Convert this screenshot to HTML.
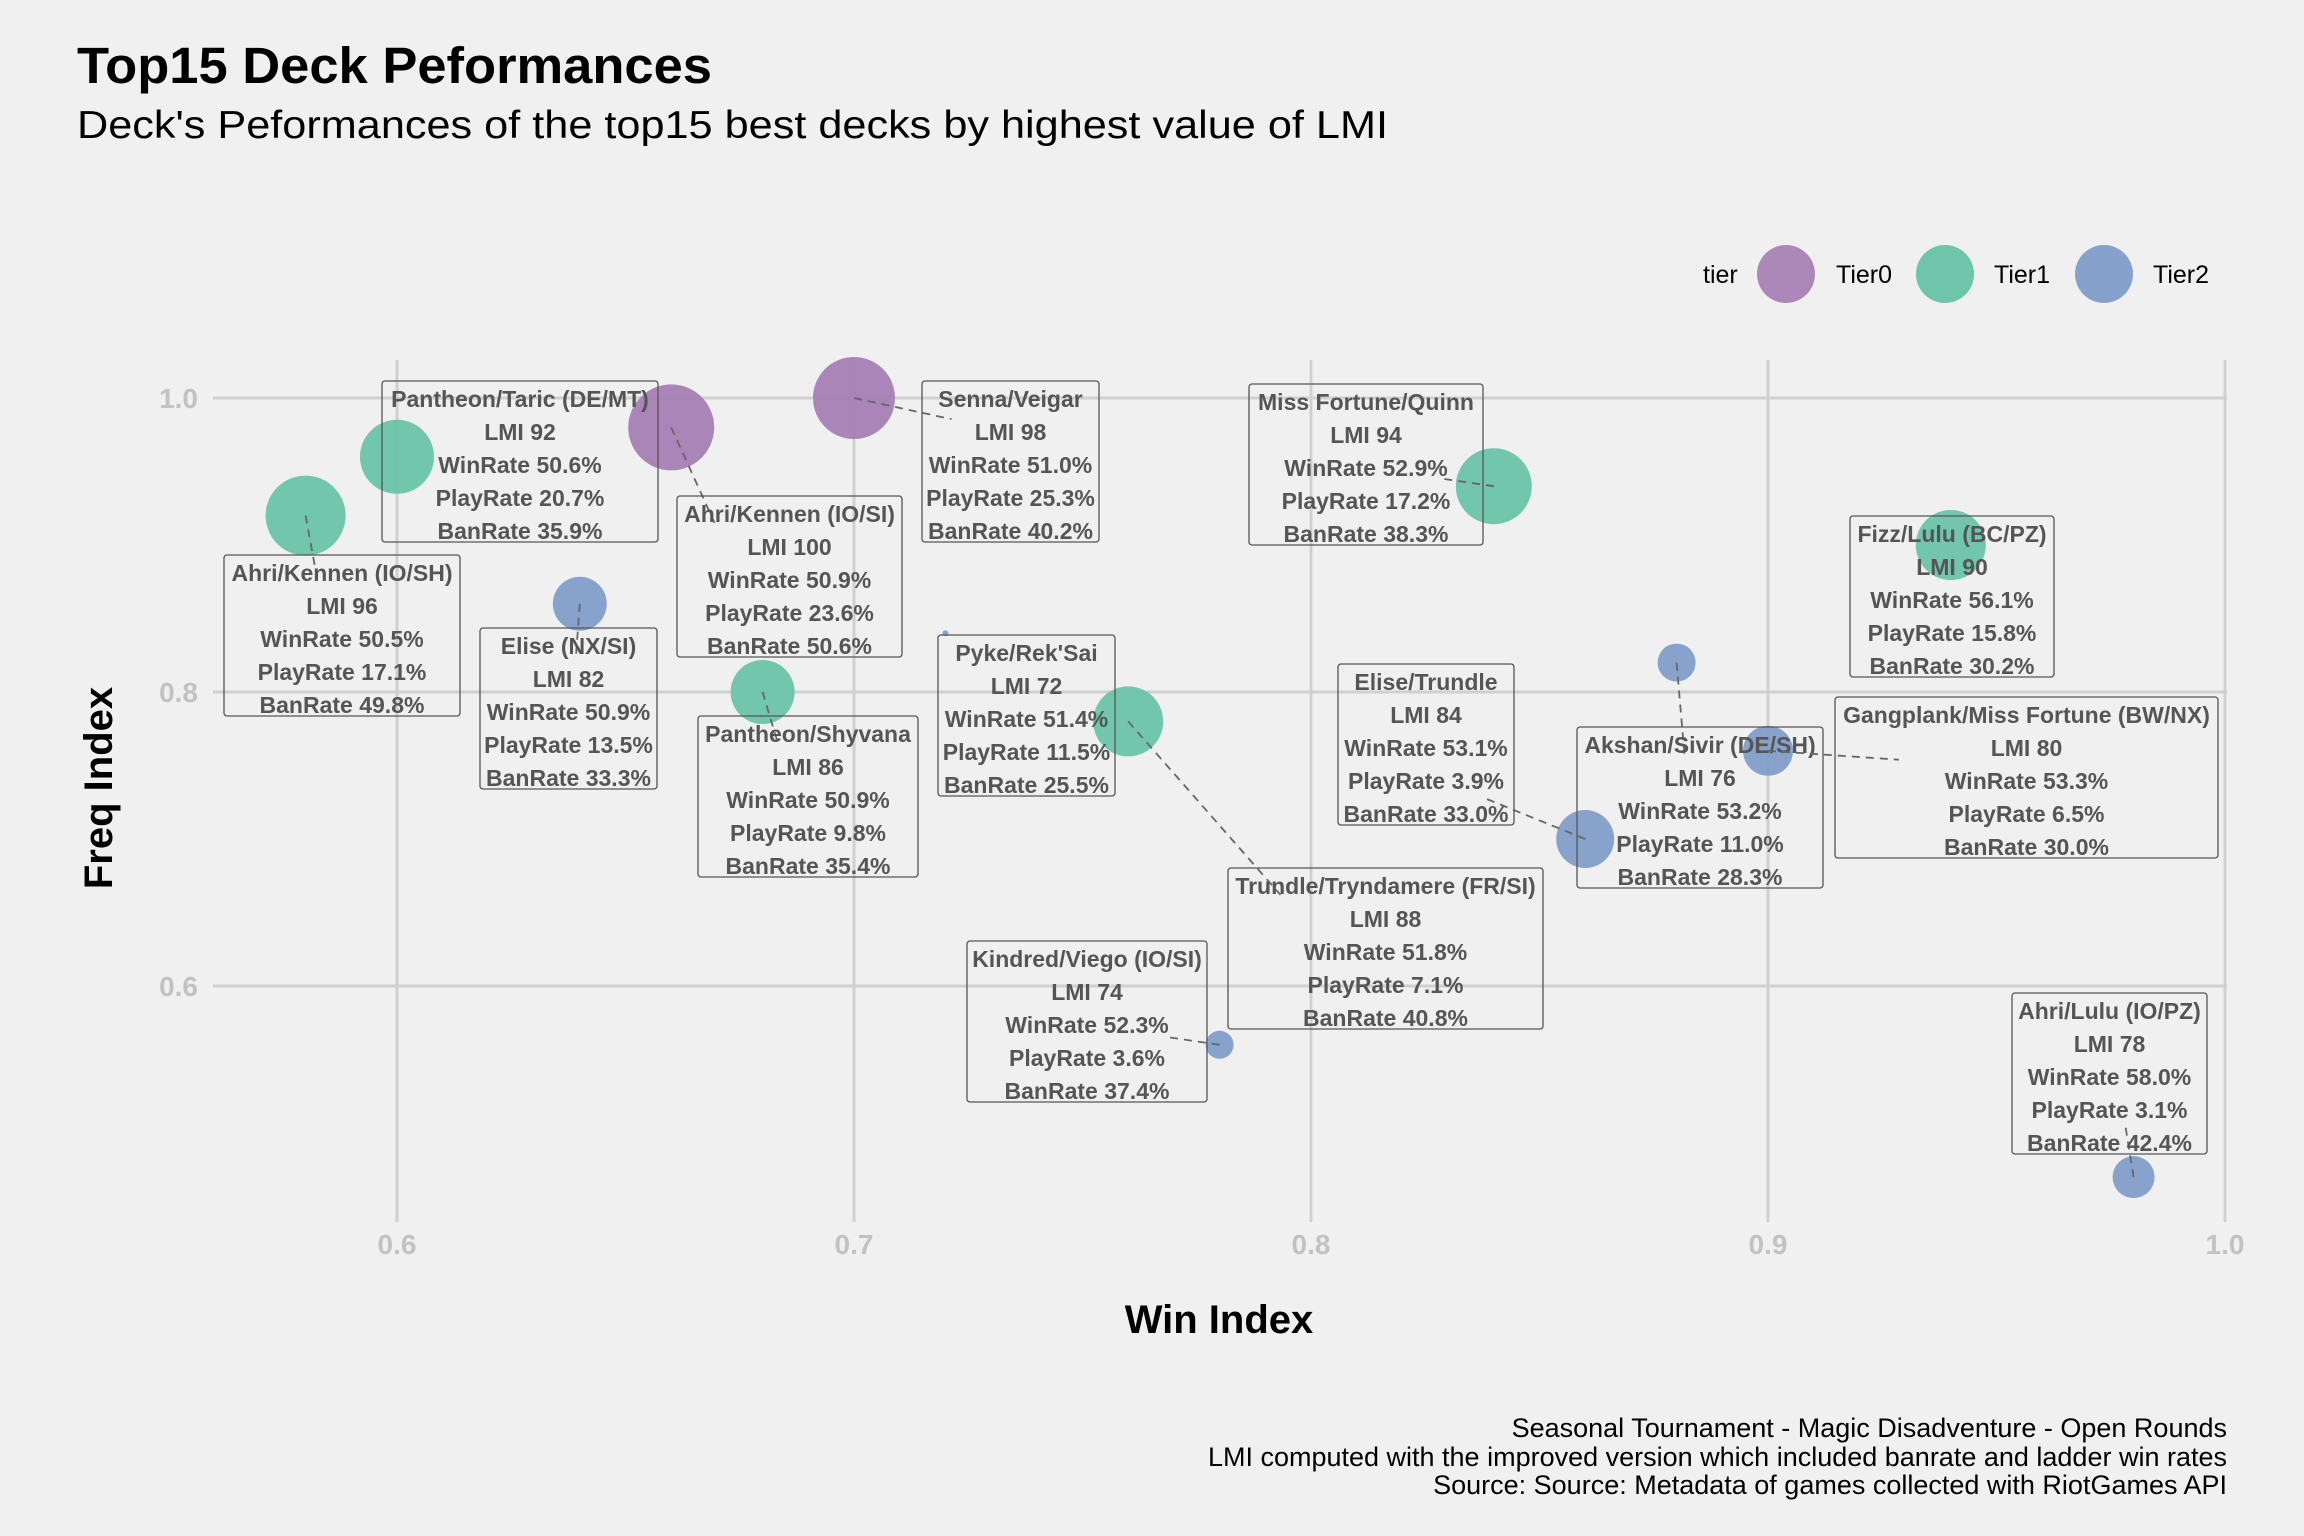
<!DOCTYPE html>
<html><head><meta charset="utf-8"><style>
html,body{margin:0;padding:0;background:#f0f0f0;}
svg{display:block;font-family:"Liberation Sans",Arial,sans-serif;}
</style></head><body>
<svg id="chart" width="2304" height="1536" viewBox="0 0 2304 1536" xmlns="http://www.w3.org/2000/svg">
<rect width="2304" height="1536" fill="#f0f0f0"/>
<text x="77" y="83" font-size="51" font-weight="bold" fill="#000" textLength="635" lengthAdjust="spacingAndGlyphs">Top15 Deck Peformances</text>
<text x="77" y="138" font-size="39" fill="#000" textLength="1311" lengthAdjust="spacingAndGlyphs">Deck's Peformances of the top15 best decks by highest value of LMI</text>
<g id="grid"></g>
<g id="axes"></g>
<g id="points"></g>
<g id="labels"></g>
<text x="1219" y="1333" font-size="40" font-weight="bold" text-anchor="middle" fill="#000">Win Index</text>
<text transform="translate(112,788) rotate(-90)" font-size="40" font-weight="bold" text-anchor="middle" fill="#000">Freq Index</text>
<g font-size="25">
<text x="1703" y="283" fill="#000">tier</text>
<circle cx="1786" cy="274" r="29" fill="#A47CB3" opacity="0.9"/>
<text x="1836" y="283" fill="#000">Tier0</text>
<circle cx="1945" cy="274" r="29" fill="#66C2A5" opacity="0.95"/>
<text x="1994" y="283" fill="#000">Tier1</text>
<circle cx="2104" cy="274" r="29" fill="#7F9CC8" opacity="0.95"/>
<text x="2153" y="283" fill="#000">Tier2</text>
</g>
<g font-size="27" fill="#000" text-anchor="end">
<text x="2227" y="1437">Seasonal Tournament - Magic Disadventure - Open Rounds</text>
<text x="2227" y="1466">LMI computed with the improved version which included banrate and ladder win rates</text>
<text x="2227" y="1494">Source: Source: Metadata of games collected with RiotGames API</text>
</g>
</svg>
<script>
const decks = ["Ahri/Kennen (IO/SH)","Pantheon/Taric (DE/MT)","Ahri/Kennen (IO/SI)","Senna/Veigar","Elise (NX/SI)","Pantheon/Shyvana","Pyke/Rek'Sai","Trundle/Tryndamere (FR/SI)","Kindred/Viego (IO/SI)","Miss Fortune/Quinn","Elise/Trundle","Akshan/Sivir (DE/SH)","Gangplank/Miss Fortune (BW/NX)","Fizz/Lulu (BC/PZ)","Ahri/Lulu (IO/PZ)"];
const tiers = [1,1,0,0,2,1,2,1,2,1,2,2,2,1,2];
const winIndex = [0.58,0.60,0.66,0.70,0.64,0.68,0.72,0.76,0.78,0.84,0.86,0.88,0.90,0.94,0.98];
const freqIndex = [0.92,0.96,0.98,1.00,0.86,0.80,0.84,0.78,0.56,0.94,0.70,0.82,0.76,0.90,0.47];
const pointSize = [40,37,43,41,27,32,3,35,14,38,29,19,25,35,21];
const lmi = [96,92,100,98,82,86,72,88,74,94,84,76,80,90,78];
const winRate = ["50.5","50.6","50.9","51.0","50.9","50.9","51.4","51.8","52.3","52.9","53.1","53.2","53.3","56.1","58.0"];
const playRate = ["17.1","20.7","23.6","25.3","13.5","9.8","11.5","7.1","3.6","17.2","3.9","11.0","6.5","15.8","3.1"];
const banRate = ["49.8","35.9","50.6","40.2","33.3","35.4","25.5","40.8","37.4","38.3","33.0","28.3","30.0","30.2","42.4"];
const xTicks = [0.6,0.7,0.8,0.9,1.0];
const yTicks = [0.6,0.8,1.0];
const xTickLabels = ["0.6","0.7","0.8","0.9","1.0"];
const yTickLabels = ["0.6","0.8","1.0"];
// label box placements (pixel layout, from repel result)
const boxLayout = [[224,555,236],[382,381,276],[677,496,225],[922,381,177],[480,628,177],[698,716,220],[938,635,177],[1228,868,315],[967,941,240],[1249,384,234],[1338,664,176],[1577,727,246],[1835,697,383],[1850,516,204],[2012,993,195]];
const colors = ["#A47CB3","#66C2A5","#7F9CC8"];
const NS="http://www.w3.org/2000/svg";
const panel={l:213,r:2227,t:360,b:1222};
const xs=v=>397+(v-0.6)*4570;
const ys=v=>398-(v-1.0)*1470;
function mk(tag,attrs,parent){const e=document.createElementNS(NS,tag);for(const k in attrs)e.setAttribute(k,attrs[k]);parent.appendChild(e);return e;}
const grid=document.getElementById('grid');
yTicks.forEach((v,i)=>{const e=mk('line',{x1:panel.l,x2:panel.r,y1:ys(v),y2:ys(v),stroke:'#d0d0d0','stroke-width':3},grid);


const t=mk('text',{x:198,y:ys(v)+10,'font-size':28,'font-weight':'bold',fill:'#c2c2c2','text-anchor':'end'},document.getElementById('axes'));
t.textContent=yTickLabels[i];

});
xTicks.forEach((v,i)=>{const e=mk('line',{x1:xs(v),x2:xs(v),y1:panel.t,y2:panel.b,stroke:'#d0d0d0','stroke-width':3},grid);


const t=mk('text',{x:xs(v),y:1254,'font-size':28,'font-weight':'bold',fill:'#c2c2c2','text-anchor':'middle'},document.getElementById('axes'));
t.textContent=xTickLabels[i];

});
const pg=document.getElementById('points'), lg=document.getElementById('labels');
decks.forEach((d,i)=>{
 const cx=xs(winIndex[i]), cy=ys(freqIndex[i]);
 const c=mk('circle',{cx:cx,cy:cy,r:pointSize[i],fill:colors[tiers[i]],opacity:0.92},pg);
 
 
});
decks.forEach((d,i)=>{
 const cx=xs(winIndex[i]), cy=ys(freqIndex[i]);
 const [bx,by,bw]=boxLayout[i]; const bh=161;
 const bcx=bx+bw/2, bcy=by+bh/2;
 const px=Math.max(bx,Math.min(cx,bx+bw)), py=Math.max(by,Math.min(cy,by+bh));
 if(Math.hypot(px-cx,py-cy)>5){
  const s=mk('line',{x1:cx,y1:cy,x2:(px*2+bcx)/3,y2:(py*2+bcy)/3,stroke:'#666','stroke-width':1.8,'stroke-dasharray':'8,6'},lg);
  
  
 }
 const g=mk('g',{},lg);
 
 
 mk('rect',{x:bx,y:by,width:bw,height:bh,rx:3,fill:'none',stroke:'#555','stroke-width':1.3},g);
 const lines=[d,'LMI '+lmi[i],'WinRate '+winRate[i]+'%','PlayRate '+playRate[i]+'%','BanRate '+banRate[i]+'%'];
 lines.forEach((ln,k)=>{const t=mk('text',{x:bx+bw/2,y:by+26+k*33,'font-size':23,'font-weight':'bold',fill:'#555','text-anchor':'middle'},g);t.textContent=ln;});
});
</script>
</body></html>
